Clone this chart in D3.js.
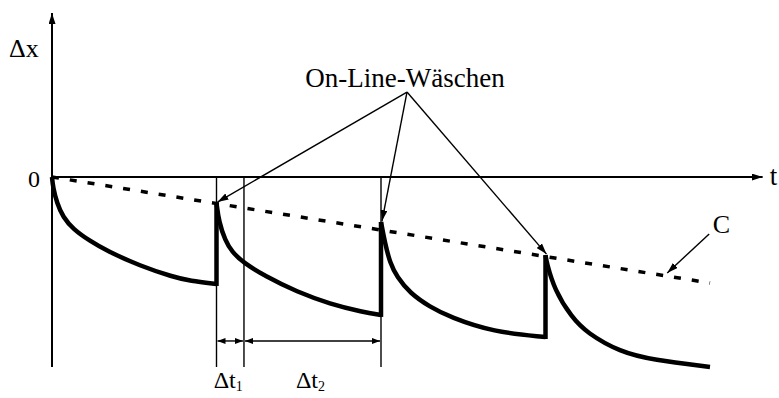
<!DOCTYPE html>
<html>
<meta charset="utf-8">
<style>
  body { margin: 0; background: #fff; }
  svg text { font-family: "Liberation Serif", "DejaVu Serif", Tinos, "Nimbus Roman", "Noto Serif", FreeSerif, Times, serif; }
  .axis { stroke: #000; stroke-width: 2; fill: none; }
  .curve { stroke: #000; stroke-width: 4.5; fill: none; stroke-linejoin: round; }
  .jump { stroke: #000; stroke-width: 4.5; }
  .drift { stroke: #000; stroke-width: 3.5; stroke-dasharray: 7 11; fill: none; }
  .thin { stroke: #000; stroke-width: 1.4; fill: none; }
</style>
<body>
<script src="https://d3js.org/d3.v7.min.js"></script>
<script>
  let width = 779,
    height = 398;

  // drift curve segments between two washes: [t, dx]
  let segment1 = [[0, 0], [0.06, -0.53], [0.30, -1.37], [0.67, -2.11], [1.28, -2.74], [2.31, -3.37],
    [3.34, -3.89], [5.35, -4.68], [7.36, -5.26], [8.39, -5.47], [10, -5.63]];
  let segment2 = [[10, -1.37], [10.15, -2.37], [10.52, -3.32], [10.94, -3.95], [11.67, -4.53], [12.95, -5.21],
    [14.89, -6.05], [16.9, -6.68], [18.9, -7.11], [20, -7.26]];
  let segment3 = [[20, -2.37], [20.24, -3.47], [20.55, -4.53], [20.97, -5.26], [21.76, -6.11], [22.98, -6.84],
    [24.19, -7.37], [26.81, -8.16], [30, -8.42]];
  let segment4 = [[30, -4.11], [30.06, -4.47], [30.55, -5.95], [31.58, -7.37], [32.52, -8.21], [34.53, -9.21],
    [36.53, -9.63], [40, -10]];
  let segments = [segment1, segment2, segment3, segment4];

  // long term trend C
  let driftC = [[0, 0], [40, -5.58]];

  // dimension marks dt1 / dt2
  let dimTimes = [10, 11.67, 20];
  let dimLabels = [["Δt", "1"], ["Δt", "2"]];

  let calloutText = "On-Line-Wäschen";
  let calloutApex = [21.58, 4.47];

  let x = d3.scaleLinear().domain([0, 40]).range([52, 710]);
  let y = d3.scaleLinear().domain([0, -10]).range([177, 367]);

  let svg = d3.select("body").append("svg")
    .attr("width", width)
    .attr("height", height);

  let defs = svg.append("defs");
  function marker(id, len, w) {
    defs.append("marker")
      .attr("id", id)
      .attr("viewBox", `0 0 ${len} ${w}`)
      .attr("refX", len).attr("refY", w / 2)
      .attr("markerWidth", len).attr("markerHeight", w)
      .attr("markerUnits", "userSpaceOnUse")
      .attr("orient", "auto-start-reverse")
      .append("path")
      .attr("d", `M0,0L${len},${w / 2}L0,${w}Z`)
      .attr("fill", "#000");
  }
  marker("axisHead", 11, 7);
  marker("head", 11, 7);
  marker("dimHead", 8, 6);

  let line = d3.line().x(d => x(d[0])).y(d => y(d[1]));

  // axes
  svg.append("line").attr("class", "axis")
    .attr("x1", x(0)).attr("y1", y(-10))
    .attr("x2", x(0)).attr("y2", y(8.63))
    .attr("marker-end", "url(#axisHead)");
  svg.append("line").attr("class", "axis")
    .attr("x1", x(0)).attr("y1", y(0))
    .attr("x2", x(43.2)).attr("y2", y(0))
    .attr("marker-end", "url(#axisHead)");

  svg.append("text").attr("x", x(0) - 12).attr("y", y(0) + 10)
    .attr("text-anchor", "end").attr("font-size", 24).text("0");
  svg.append("text").attr("x", 9).attr("y", 57)
    .attr("font-size", 26).text("Δx");
  svg.append("text").attr("x", x(43.2) + 7).attr("y", y(0) + 8)
    .attr("font-size", 27).text("t");

  // dimension lines
  svg.selectAll(".dimv")
    .data(dimTimes)
    .join("line")
    .attr("class", "thin dimv")
    .attr("x1", d => x(d)).attr("x2", d => x(d))
    .attr("y1", y(0)).attr("y2", y(-10));

  svg.selectAll(".dimh")
    .data(d3.pairs(dimTimes))
    .join("line")
    .attr("class", "thin dimh")
    .attr("x1", d => x(d[0]) + 1).attr("x2", d => x(d[1]) - 1)
    .attr("y1", y(-8.63)).attr("y2", y(-8.63))
    .attr("marker-start", "url(#dimHead)")
    .attr("marker-end", "url(#dimHead)");

  let dimText = svg.selectAll(".dimlabel")
    .data(d3.pairs(dimTimes).map((d, i) => ({ t: (d[0] + d[1]) / 2, lab: dimLabels[i] })))
    .join("text")
    .attr("class", "dimlabel")
    .attr("x", d => x(d.t) - 2)
    .attr("y", 388)
    .attr("text-anchor", "middle")
    .attr("font-size", 24);
  dimText.append("tspan").text(d => d.lab[0]);
  dimText.append("tspan").attr("font-size", 14).attr("dy", 3).text(d => d.lab[1]);

  // trend C
  svg.append("path").attr("class", "drift").datum(driftC).attr("d", line);

  // washing curve
  svg.selectAll(".curve")
    .data(segments)
    .join("path")
    .attr("class", "curve")
    .attr("d", d3.line().x(d => x(d[0])).y(d => y(d[1])).curve(d3.curveBasis));

  svg.selectAll(".jump")
    .data(d3.pairs(segments))
    .join("line")
    .attr("class", "jump")
    .attr("x1", d => x(d[0][d[0].length - 1][0])).attr("y1", d => y(d[0][d[0].length - 1][1]) + 2)
    .attr("x2", d => x(d[1][0][0])).attr("y2", d => y(d[1][0][1]));

  // callout
  svg.append("text")
    .attr("x", x(calloutApex[0]) - 2).attr("y", y(calloutApex[1]) - 5)
    .attr("text-anchor", "middle").attr("font-size", 27)
    .text(calloutText);

  svg.selectAll(".callout")
    .data(segments.slice(1).map(s => s[0]))
    .join("line")
    .attr("class", "thin callout")
    .attr("x1", x(calloutApex[0])).attr("y1", y(calloutApex[1]))
    .attr("x2", d => x(d[0]) + 1).attr("y2", d => y(d[1]) - 1)
    .attr("marker-end", "url(#head)");

  // label C
  svg.append("text").attr("x", x(40.7)).attr("y", y(-2.95))
    .attr("text-anchor", "middle").attr("font-size", 26).text("C");
  svg.append("line").attr("class", "thin")
    .attr("x1", x(39.95)).attr("y1", y(-3.0))
    .attr("x2", x(37.4)).attr("y2", y(-5.05))
    .attr("marker-end", "url(#head)");
</script>
</body>
</html>
